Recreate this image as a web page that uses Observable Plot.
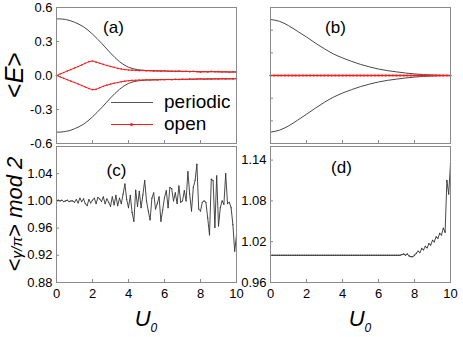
<!DOCTYPE html>
<html><head><meta charset="utf-8">
<script src="https://cdn.jsdelivr.net/npm/d3@7"></script>
<script src="https://cdn.jsdelivr.net/npm/@observablehq/plot@0.6"></script>
<style>
body{margin:0;background:#fff;}
#wrap{position:relative;width:463px;height:337px;overflow:hidden;font-family:"Liberation Sans",Arial,sans-serif;color:#000;}
.pan{position:absolute;}
.abs{position:absolute;white-space:nowrap;line-height:1;}
.rot{transform:translate(-50%,-50%) rotate(-90deg);}
.ctr{transform:translate(-50%,-50%);}
</style></head><body><div id="wrap"></div>
<script>
// ---------- data ----------
const uQuarter = d3.range(0, 41).map(i => i * 0.25);   // sampling grid, step 0.25
const uFifth   = d3.range(0, 51).map(i => i * 0.2);    // sampling grid, step 0.2
const uHalf    = d3.range(0, 21).map(i => i * 0.5);    // sampling grid, step 0.5
const uTenth   = d3.range(0, 101).map(i => i / 10);    // sampling grid, step 0.1

// (a) periodic, upper and lower branches (step 0.25)
const aPeriodicUp = [0.500,0.499,0.494,0.485,0.470,0.452,0.430,0.400,0.365,0.326,0.285,0.242,0.198,0.158,0.122,0.094,0.073,0.060,0.052,0.047,0.044,0.043,0.042,0.041,0.040,0.039,0.038,0.038,0.037,0.036,0.036,0.035,0.034,0.034,0.033,0.033,0.032,0.032,0.031,0.031,0.031];
const aPeriodicDn = [-0.500,-0.499,-0.494,-0.485,-0.470,-0.452,-0.430,-0.400,-0.365,-0.326,-0.285,-0.242,-0.198,-0.158,-0.122,-0.092,-0.070,-0.056,-0.048,-0.043,-0.040,-0.039,-0.038,-0.037,-0.036,-0.035,-0.035,-0.034,-0.033,-0.033,-0.032,-0.032,-0.031,-0.031,-0.030,-0.030,-0.030,-0.029,-0.029,-0.029,-0.028];
// (a) open, upper and lower branches (step 0.2)
const aOpenUp = [0,0.013,0.026,0.040,0.052,0.066,0.079,0.093,0.108,0.122,0.128,0.118,0.108,0.098,0.088,0.080,0.072,0.063,0.057,0.052,0.049,0.047,0.045,0.043,0.044,0.041,0.042,0.039,0.040,0.038,0.041,0.037,0.038,0.036,0.039,0.035,0.037,0.034,0.036,0.033,0.030,0.034,0.031,0.036,0.033,0.034,0.031,0.033,0.030,0.032,0.031];
const aOpenDn = [0,-0.012,-0.025,-0.037,-0.050,-0.062,-0.075,-0.088,-0.102,-0.115,-0.125,-0.122,-0.108,-0.095,-0.085,-0.076,-0.068,-0.062,-0.055,-0.050,-0.046,-0.043,-0.042,-0.040,-0.041,-0.038,-0.040,-0.037,-0.039,-0.036,-0.037,-0.035,-0.037,-0.034,-0.036,-0.033,-0.035,-0.032,-0.034,-0.031,-0.029,-0.033,-0.030,-0.032,-0.029,-0.031,-0.028,-0.031,-0.029,-0.030,-0.028];

// (b) periodic (step 0.5), open (step 0.2)
const bPeriodicUp = [0.494,0.478,0.440,0.390,0.340,0.285,0.235,0.190,0.155,0.125,0.098,0.076,0.057,0.043,0.032,0.022,0.014,0.008,0.004,0.001,0];
const bPeriodicDn = [-0.500,-0.482,-0.445,-0.395,-0.342,-0.287,-0.236,-0.191,-0.155,-0.125,-0.098,-0.076,-0.057,-0.043,-0.032,-0.022,-0.014,-0.008,-0.004,-0.001,0];
const bOpen = [0,0,0,0,0,0,0,0,0,0,0,0,0,0,0,0,0,0,0,0,0,0,0,0,0,0,0,0,0,0,0,0,0,0,0,0,0,0,0,0,0,0,0,0,0,0,0,0,0,0,0];

// (c) <gamma/pi> mod 2, open (step 0.1)
const cGamma = [
 1.000,1.001,1.000,1.001,0.999,1.000,1.001,0.999,1.000,1.000,
 0.998,1.002,0.997,1.004,0.999,1.003,0.996,0.993,1.002,0.997,
 1.001,1.004,0.996,1.005,1.003,0.999,1.006,0.996,1.003,0.998,
 0.992,1.006,0.994,1.008,0.993,1.004,0.996,1.010,1.025,1.002,
 0.990,1.008,0.983,0.970,1.016,0.992,1.014,0.990,1.009,1.030,
 1.000,0.985,0.972,1.004,1.012,0.988,0.996,1.006,0.970,0.987,
 1.005,1.015,0.990,1.020,1.018,1.000,1.012,0.996,1.022,0.998,
 1.000,1.015,1.000,1.043,1.010,0.985,1.020,1.030,1.054,0.988,
 0.985,0.998,1.000,0.998,0.975,0.950,1.032,1.030,0.961,1.037,
 0.963,0.990,1.000,0.995,1.040,0.996,0.998,0.990,0.965,0.926,
 0.950];
// (d) <gamma/pi> mod 2, periodic (step 0.1)
const dGamma = [
 1.000,1.000,1.000,1.000,1.000,1.000,1.000,1.000,1.000,1.000,
 1.000,1.000,1.000,1.000,1.000,1.000,1.000,1.000,1.000,1.000,
 1.000,1.000,1.000,1.000,1.000,1.000,1.000,1.000,1.000,1.000,
 1.000,1.000,1.000,1.000,1.000,1.000,1.000,1.000,1.000,1.000,
 1.000,1.000,1.000,1.000,1.000,1.000,1.000,1.000,1.000,1.000,
 1.000,1.000,1.000,1.000,1.000,1.000,1.000,1.000,1.000,1.000,
 1.000,1.000,1.000,1.000,1.000,1.000,1.000,1.000,1.000,1.000,
 1.000,1.000,1.000,1.001,1.002,1.000,1.002,0.999,0.998,0.998,
 1.000,1.003,1.006,1.004,1.010,1.008,1.013,1.011,1.017,1.015,
 1.022,1.020,1.027,1.025,1.032,1.030,1.040,1.034,1.110,1.090,
 1.135];

// ticks
const xTickLabels = [0, 2, 4, 6, 8, 10];
const xInnerTicks = [2, 4, 6, 8];
const aYTicks = [-0.6, -0.3, 0, 0.3, 0.6];
const bYTicks = [-0.4, -0.2, 0, 0.2, 0.4];
const cYTicks = [0.88, 0.92, 0.96, 1.00, 1.04];
const dYTicks = [0.96, 1.02, 1.08, 1.14];
const panelLabels = ["(a)", "(b)", "(c)", "(d)"];
const legendNames = ["periodic", "open"];

// ---------- style ----------
const FONT = '"Liberation Sans", Arial, sans-serif';
const FRAME = "#8a8a8a";
const BLACK = "#333";
const RED = "#ff1a1a";
const baseStyle = {background: "transparent", overflow: "visible", fontFamily: FONT, fontSize: "13px", color: "#000"};

const wrap = document.getElementById("wrap");
function place(svg, left, top) {
  const d = document.createElement("div");
  d.className = "pan";
  d.style.left = left + "px"; d.style.top = top + "px";
  d.appendChild(svg);
  wrap.appendChild(d);
}
const lineOf = (xs, ys, opts) => Plot.line(ys, {x: (d, i) => xs[i], y: d => d, ...opts});
const dotsOf = (xs, ys, opts) => Plot.dot(ys, {x: (d, i) => xs[i], y: d => d, ...opts});
const inTicksY = t => Plot.axisY(t, {tickSize: -3, fill: "none", stroke: FRAME, label: null});
const inTicksX = t => Plot.axisX(t, {tickSize: -3, fill: "none", stroke: FRAME, label: null});
const panelText = (s, dx, dy) => Plot.text([s], {text: d => d, frameAnchor: "top", dx, dy, lineAnchor: "middle", fontSize: 17, fill: "#000"});

// (a)
place(Plot.plot({
  width: 240, height: 152, marginLeft: 56, marginRight: 4, marginTop: 7, marginBottom: 9,
  x: {domain: [0, 10]}, y: {domain: [-0.6, 0.6]}, style: baseStyle,
  marks: [
    Plot.axisY(aYTicks, {tickSize: 0, tickPadding: 4, tickFormat: d => d.toFixed(1), label: null}),
    inTicksY(aYTicks), inTicksX(xInnerTicks),
    lineOf(uQuarter, aPeriodicUp, {stroke: BLACK, strokeWidth: 0.9}),
    lineOf(uQuarter, aPeriodicDn, {stroke: BLACK, strokeWidth: 0.9}),
    lineOf(uFifth, aOpenUp, {stroke: RED, strokeWidth: 1}),
    lineOf(uFifth, aOpenDn, {stroke: RED, strokeWidth: 1}),
    dotsOf(uFifth, aOpenUp, {fill: RED, r: 0.8}),
    dotsOf(uFifth, aOpenDn, {fill: RED, r: 0.8}),
    Plot.frame({stroke: FRAME}),
    panelText(panelLabels[0], -33, 20)
  ]
}), 0, 0);

// (b)
place(Plot.plot({
  width: 223, height: 152, marginLeft: 30, marginRight: 13, marginTop: 7, marginBottom: 9,
  x: {domain: [0, 10]}, y: {domain: [-0.6, 0.6]}, style: baseStyle,
  marks: [
    inTicksY(bYTicks), inTicksX(xInnerTicks),
    lineOf(uHalf, bPeriodicUp, {stroke: BLACK, strokeWidth: 0.9, curve: "monotone-x"}),
    lineOf(uHalf, bPeriodicDn, {stroke: BLACK, strokeWidth: 0.9, curve: "monotone-x"}),
    lineOf(uFifth, bOpen, {stroke: RED, strokeWidth: 1.6}),
    dotsOf(uFifth, bOpen, {fill: RED, r: 1.1}),
    Plot.frame({stroke: FRAME}),
    panelText(panelLabels[1], -25, 20)
  ]
}), 240, 0);

// (c)
place(Plot.plot({
  width: 240, height: 165, marginLeft: 56, marginRight: 4, marginTop: 7, marginBottom: 22,
  x: {domain: [0, 10]}, y: {domain: [0.88, 1.08]}, style: baseStyle,
  marks: [
    Plot.axisY(cYTicks, {tickSize: 0, tickPadding: 4, tickFormat: d => d.toFixed(2), label: null}),
    Plot.axisX(xTickLabels, {tickSize: 0, tickPadding: 6, tickFormat: d => String(d), label: null}),
    inTicksY(cYTicks), inTicksX(xInnerTicks),
    lineOf(uTenth, cGamma, {stroke: BLACK, strokeWidth: 0.9}),
    dotsOf(uTenth, cGamma, {fill: BLACK, r: 0.6}),
    Plot.frame({stroke: FRAME}),
    panelText(panelLabels[2], -30, 24)
  ]
}), 0, 139);

// (d)
place(Plot.plot({
  width: 223, height: 165, marginLeft: 30, marginRight: 13, marginTop: 7, marginBottom: 22,
  x: {domain: [0, 10]}, y: {domain: [0.96, 1.16]}, style: baseStyle,
  marks: [
    Plot.axisY(dYTicks, {tickSize: 0, tickPadding: 4, tickFormat: d => d.toFixed(2), label: null}),
    Plot.axisX(xTickLabels, {tickSize: 0, tickPadding: 6, tickFormat: d => String(d), label: null}),
    inTicksY(dYTicks), inTicksX(xInnerTicks),
    lineOf(uTenth, dGamma, {stroke: BLACK, strokeWidth: 0.9}),
    dotsOf(uTenth, dGamma, {fill: BLACK, r: 0.7}),
    Plot.frame({stroke: FRAME}),
    panelText(panelLabels[3], -19, 21)
  ]
}), 240, 139);

// ---------- titles & legend (HTML) ----------
function addDiv(html, cls, left, top, css) {
  const d = document.createElement("div");
  d.className = "abs " + cls;
  d.style.left = left + "px"; d.style.top = top + "px";
  d.innerHTML = html;
  Object.assign(d.style, css || {});
  wrap.appendChild(d);
  return d;
}
addDiv('&lt;<i>E</i>&gt;', "rot", 14, 75, {fontSize: "25px"});
addDiv('&lt;<i style="font-size:15px;">γ/π</i>&gt; <i>mod 2</i>', "rot", 15, 214, {fontSize: "22px"});
addDiv('<i>U</i><sub style="font-size:12px;"><i>0</i></sub>', "ctr", 146, 321, {fontSize: "22px"});
addDiv('<i>U</i><sub style="font-size:12px;"><i>0</i></sub>', "ctr", 360, 321, {fontSize: "22px"});

// legend
const leg = [
  {name: legendNames[0], color: "#555", dots: false, y: 102},
  {name: legendNames[1], color: RED, dots: true, y: 124}
];
for (const l of leg) {
  const ln = addDiv("", "", 111, l.y, {width: "42px", height: "0", borderTop: "1px solid " + l.color});
  if (l.dots) {
    const dot = document.createElement("div");
    Object.assign(dot.style, {position: "absolute", left: "19px", top: "-2px", width: "3px", height: "3px", borderRadius: "50%", background: l.color});
    ln.appendChild(dot);
  }
  addDiv(l.name, "", 164, l.y - 10, {fontSize: "19px"});
}
</script></body></html>
